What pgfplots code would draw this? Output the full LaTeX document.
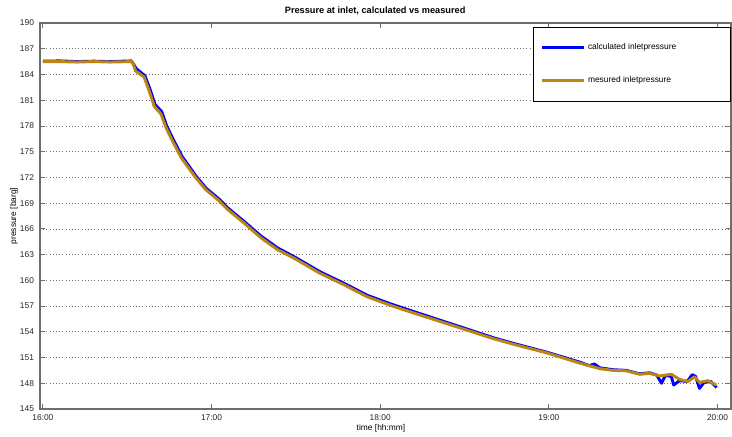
\documentclass[border=0pt]{standalone}
\usepackage{pgfplots}
\pgfplotsset{compat=1.18}
\usepackage{fontspec}
\setmainfont{Liberation Sans}
\usetikzlibrary{calc}
\definecolor{calcblue}{RGB}{0,0,255}
\definecolor{measorange}{RGB}{189,134,18}
\definecolor{axgray}{RGB}{110,110,110}
\pgfplotstableread{
t p
16.000 185.50
16.100 185.50
16.200 185.45
16.300 185.50
16.400 185.45
16.530 185.50
16.550 184.40
16.600 183.70
16.630 182.10
16.660 180.30
16.700 179.40
16.730 177.80
16.770 176.20
16.820 174.30
16.905 172.00
16.964 170.60
17.043 169.30
17.093 168.30
17.191 166.70
17.290 165.00
17.389 163.60
17.487 162.60
17.566 161.70
17.645 160.80
17.783 159.50
17.921 158.10
18.059 157.10
18.197 156.20
18.355 155.20
18.513 154.20
18.670 153.20
18.789 152.55
18.986 151.55
19.183 150.35
19.302 149.70
19.380 149.50
19.460 149.45
19.538 149.05
19.598 149.15
19.657 148.85
19.726 149.05
19.775 148.45
19.824 148.20
19.864 148.75
19.893 148.10
19.943 148.30
19.992 147.80
}\measured
\pgfplotstableread{
t p
16.000 185.55
16.100 185.58
16.200 185.50
16.300 185.55
16.400 185.50
16.525 185.58
16.555 184.65
16.605 183.85
16.635 182.30
16.665 180.50
16.705 179.65
16.735 177.95
16.775 176.35
16.825 174.45
16.908 172.15
16.967 170.75
17.046 169.45
17.096 168.45
17.194 166.85
17.293 165.17
17.392 163.77
17.490 162.75
17.569 161.85
17.648 160.95
17.786 159.65
17.924 158.25
18.062 157.25
18.200 156.35
18.358 155.33
18.516 154.32
18.672 153.30
18.790 152.65
18.988 151.62
19.185 150.45
19.240 150.05
19.270 150.25
19.302 149.80
19.380 149.58
19.460 149.50
19.538 149.10
19.598 149.22
19.640 148.95
19.668 148.00
19.690 148.90
19.726 148.80
19.740 147.80
19.775 148.30
19.820 148.20
19.850 149.00
19.870 148.80
19.893 147.40
19.920 148.10
19.960 148.20
19.995 147.50
}\calculated
\begin{document}
\begin{tikzpicture}
\begin{axis}[
  scale only axis,
  width=518.25pt, height=289.5pt,
  xmin=15.983, xmax=20.08,
  ymin=145, ymax=190,
  axis line style={axgray, line width=0.9pt},
  xtick={16,17,18,19,20},
  xticklabels={16:00,17:00,18:00,19:00,20:00},
  ytick={145,148,151,154,157,160,163,166,169,172,175,178,181,184,187,190},
  tick align=inside,
  major tick length=4pt,
  tick style={axgray, line width=0.6pt},
  ymajorgrids,
  grid style={black!55, dotted, line width=0.5pt},
  /pgf/number format/assume math mode=true,
  ticklabel style={font=\fontsize{6.3}{7.5}\selectfont, text=black!85},
  yticklabel style={xshift=-1pt},
  xticklabel style={yshift=-1pt},
  every axis title shift=0pt,
  title={Pressure at inlet, calculated vs measured},
  title style={font=\fontsize{6.9}{8}\selectfont\bfseries, at={(axis description cs:0.485,1.031)}, anchor=center},
  xlabel={time [hh:mm]},
  xlabel style={font=\fontsize{6.3}{7.5}\selectfont, at={(axis description cs:0.4935,-0.049)}, anchor=center},
  ylabel={pressure [barg]},
  ylabel style={font=\fontsize{6.3}{7.5}\selectfont, at={(axis description cs:-0.0376,0.5)}, anchor=center, rotate=0},
  legend cell align=left,
  legend style={at={(axis description cs:1,0.9896)}, anchor=north east, draw=black, line width=0.5pt, fill=white,
    font=\fontsize{6.3}{7.5}\selectfont, inner xsep=5pt, inner ysep=10pt, row sep=15pt},
  legend image code/.code={\draw[#1] (0pt,0pt) -- (31.5pt,0pt);},
]
\addplot[calcblue, line width=2.2pt, line join=round] table[x=t,y=p] {\calculated};
\addlegendentry{\makebox[100pt][l]{calculated inletpressure}}
\addplot[measorange, line width=2.2pt, line join=round] table[x=t,y=p] {\measured};
\addlegendentry{\makebox[100pt][l]{mesured inletpressure}}
\end{axis}
\pgfresetboundingbox
\path ($(current axis.south west)+(-30pt,-21pt)$) rectangle ($(current axis.north east)+(0.75pt,17.25pt)$);
\end{tikzpicture}
\end{document}
